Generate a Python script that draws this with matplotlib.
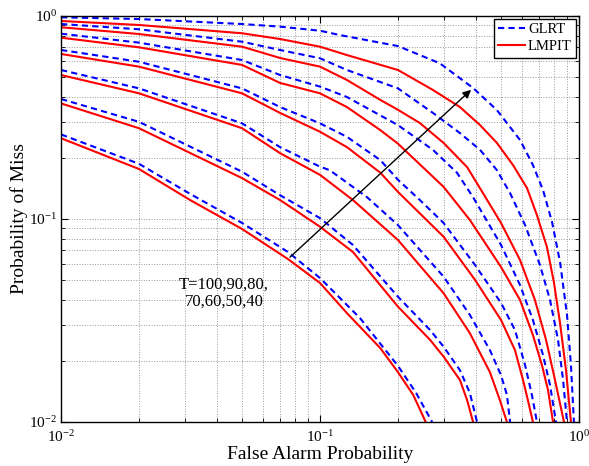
import numpy as np
import matplotlib
matplotlib.use("Agg")
import matplotlib.pyplot as plt

plt.rcParams['font.family'] = ['Liberation Serif', 'DejaVu Serif']
plt.rcParams['mathtext.fontset'] = 'stix'

# GLRT curves (dashed blue), T = 100 ... 40
glrt_x = [
    [0.01, 0.02, 0.05, 0.0701, 0.1, 0.119, 0.2, 0.29, 0.39, 0.482, 0.592, 0.664, 0.726, 0.787, 0.845, 0.899, 0.931, 0.956],
    [0.01, 0.02, 0.05, 0.0701, 0.1, 0.127, 0.2, 0.273, 0.347, 0.415, 0.482, 0.542, 0.619, 0.707, 0.773, 0.83, 0.868, 0.899],
    [0.01, 0.02, 0.05, 0.0701, 0.1, 0.127, 0.2, 0.273, 0.338, 0.39, 0.5, 0.592, 0.664, 0.726, 0.773, 0.815],
    [0.01, 0.02, 0.05, 0.0701, 0.1, 0.127, 0.171, 0.2, 0.243, 0.3, 0.397, 0.5, 0.566, 0.619, 0.658, 0.688],
    [0.01, 0.02, 0.05, 0.0701, 0.1, 0.109, 0.152, 0.2, 0.3, 0.379, 0.453, 0.5, 0.527, 0.542],
    [0.01, 0.02, 0.05, 0.0701, 0.1, 0.134, 0.2, 0.266, 0.3, 0.347, 0.379, 0.404],
    [0.01, 0.02, 0.0315, 0.05, 0.0752, 0.1, 0.1427, 0.2, 0.235, 0.271],
]
glrt_y = [
    [0.985, 0.966, 0.913, 0.886, 0.846, 0.806, 0.711, 0.585, 0.442, 0.344, 0.245, 0.1845, 0.139, 0.0966, 0.0614, 0.0337, 0.0191, 0.01],
    [0.913, 0.86, 0.747, 0.68, 0.619, 0.542, 0.44, 0.333, 0.265, 0.219, 0.174, 0.134, 0.0934, 0.0593, 0.0399, 0.0254, 0.0161, 0.01],
    [0.818, 0.739, 0.607, 0.512, 0.449, 0.399, 0.29, 0.219, 0.169, 0.128, 0.0745, 0.0473, 0.0318, 0.0214, 0.0152, 0.01],
    [0.68, 0.595, 0.44, 0.356, 0.296, 0.254, 0.195, 0.156, 0.124, 0.0956, 0.0593, 0.0386, 0.0284, 0.0191, 0.0136, 0.01],
    [0.542, 0.44, 0.296, 0.226, 0.181, 0.174, 0.128, 0.0933, 0.052, 0.0337, 0.0226, 0.017, 0.0136, 0.01],
    [0.39, 0.301, 0.171, 0.131, 0.101, 0.0745, 0.0414, 0.0284, 0.0235, 0.018, 0.0139, 0.01],
    [0.261, 0.187, 0.133, 0.0956, 0.0688, 0.0512, 0.0325, 0.0189, 0.0139, 0.01],
]

# LMPIT curves (solid red)
lmpit_x = [
    [0.01, 0.02, 0.05, 0.0701, 0.1, 0.127, 0.2, 0.273, 0.347, 0.415, 0.482, 0.556, 0.63, 0.688, 0.752, 0.801, 0.845, 0.891, 0.931],
    [0.01, 0.02, 0.05, 0.0701, 0.1, 0.127, 0.171, 0.2, 0.243, 0.3, 0.37, 0.426, 0.5, 0.592, 0.676, 0.746, 0.808, 0.875],
    [0.01, 0.02, 0.05, 0.0701, 0.1, 0.127, 0.171, 0.2, 0.3, 0.379, 0.5, 0.592, 0.664, 0.719, 0.759, 0.794],
    [0.01, 0.02, 0.05, 0.0701, 0.1, 0.127, 0.171, 0.2, 0.3, 0.397, 0.5, 0.566, 0.608, 0.635, 0.664],
    [0.01, 0.02, 0.05, 0.0701, 0.1, 0.134, 0.2, 0.3, 0.379, 0.453, 0.495, 0.527],
    [0.01, 0.02, 0.05, 0.0701, 0.1, 0.134, 0.2, 0.266, 0.3, 0.347, 0.37, 0.39],
    [0.01, 0.02, 0.0315, 0.05, 0.0752, 0.1, 0.127, 0.171, 0.2, 0.229, 0.256],
]
lmpit_y = [
    [0.945, 0.903, 0.822, 0.77, 0.706, 0.642, 0.542, 0.432, 0.356, 0.29, 0.237, 0.1845, 0.142, 0.1045, 0.0728, 0.0484, 0.0307, 0.018, 0.01],
    [0.88, 0.815, 0.706, 0.621, 0.563, 0.484, 0.386, 0.345, 0.297, 0.237, 0.18, 0.134, 0.0956, 0.0628, 0.0399, 0.0254, 0.0161, 0.01],
    [0.782, 0.701, 0.574, 0.468, 0.416, 0.356, 0.274, 0.235, 0.144, 0.0989, 0.058, 0.0399, 0.0268, 0.0191, 0.0144, 0.01],
    [0.65, 0.563, 0.416, 0.333, 0.269, 0.226, 0.169, 0.136, 0.0818, 0.0501, 0.0318, 0.0226, 0.0161, 0.0128, 0.01],
    [0.512, 0.416, 0.28, 0.211, 0.165, 0.124, 0.0788, 0.0431, 0.0274, 0.0176, 0.0128, 0.01],
    [0.371, 0.28, 0.159, 0.124, 0.0916, 0.0688, 0.037, 0.0254, 0.021, 0.0161, 0.0128, 0.01],
    [0.25, 0.1763, 0.124, 0.0893, 0.0635, 0.0484, 0.0344, 0.0231, 0.0176, 0.0136, 0.01],
]

note_text = "T=100,90,80,\n70,60,50,40"
arrow_tail = (0.0752, 0.0635)
arrow_head = (0.39, 0.442)

fig = plt.figure(figsize=(5.89, 4.66), dpi=100)
ax = fig.add_axes([0.1036, 0.0944, 0.8794, 0.8713])

for i in range(len(glrt_x)):
    ax.plot(lmpit_x[i], lmpit_y[i], color='red', lw=1.5,
            label='LMPIT' if i == 0 else None)
    ax.plot(glrt_x[i], glrt_y[i], color='blue', lw=1.5, ls=(0, (3, 2)),
            label='GLRT' if i == 0 else None)

ax.set_xscale('log')
ax.set_yscale('log')
ax.set_xlim(0.01, 1)
ax.set_ylim(0.01, 1)

ax.grid(True, which='both', ls=':', color='#999999', lw=0.7)
ax.tick_params(which='both', direction='in', top=True, right=True, labelsize=11)
ax.tick_params(axis='x', which='major', pad=5)
ax.tick_params(axis='y', which='major', pad=2.5)
ax.tick_params(which='major', length=5)
ax.tick_params(which='minor', length=3)
for s in ax.spines.values():
    s.set_linewidth(1.0)

ax.set_xlabel('False Alarm Probability', fontsize=14, labelpad=1)
ax.set_ylabel('Probability of Miss', fontsize=14, labelpad=1)

ax.annotate('', xy=arrow_head, xytext=arrow_tail,
            arrowprops=dict(arrowstyle='-|>', color='black', lw=1.0, mutation_scale=12))
ax.text(0.0426, 0.043, note_text, fontsize=12, ha='center', va='center',
        linespacing=1.1)

handles, labels = ax.get_legend_handles_labels()
order = [labels.index('GLRT'), labels.index('LMPIT')]
leg = ax.legend([handles[k] for k in order], [labels[k] for k in order],
                loc='upper right', fontsize=10.5, fancybox=False, edgecolor='black',
                framealpha=1, borderaxespad=0.2, borderpad=0.3, labelspacing=0.25,
                handletextpad=0.2, handlelength=1.85)
leg.get_frame().set_linewidth(1.0)

fig.savefig('out.png', dpi=100)
